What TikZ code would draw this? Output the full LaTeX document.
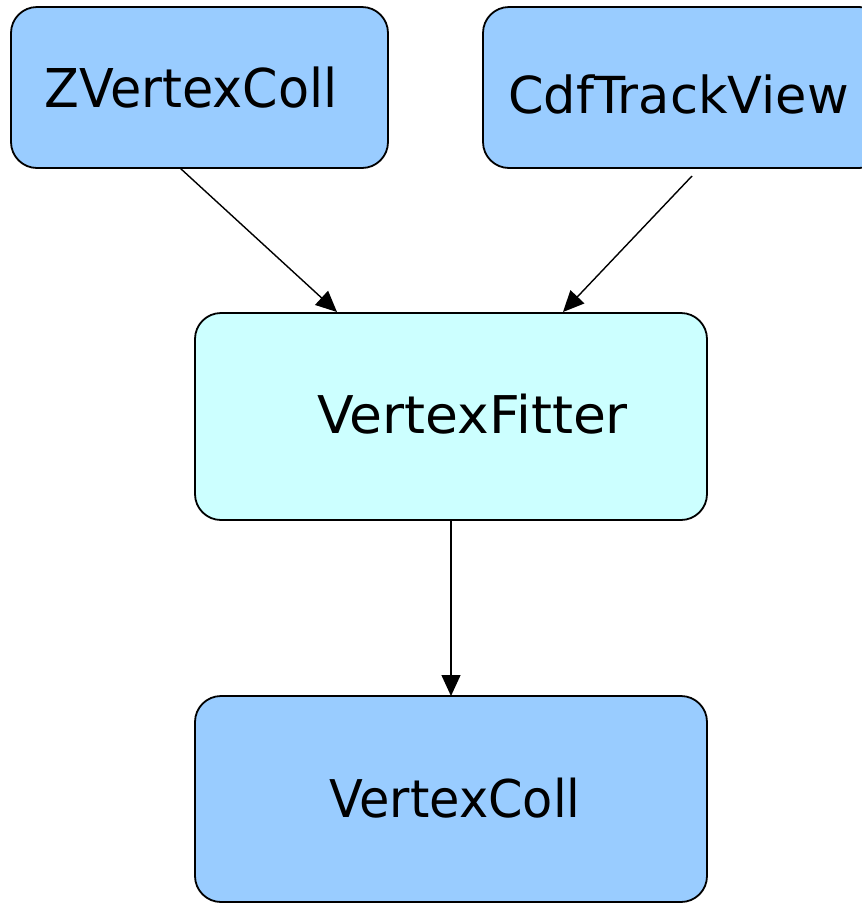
\documentclass[tikz,border=0pt]{standalone}
\usepackage{fontspec}
\setmainfont{DejaVu Sans}
\usetikzlibrary{arrows.meta}
\definecolor{boxblue}{HTML}{99CCFF}
\definecolor{boxcyan}{HTML}{CCFFFF}
\tikzset{
  box/.style={draw=black, line width=1.8pt, rounded corners=26pt, inner sep=0pt},
  lbl/.style={inner sep=0pt, anchor=base, text=black},
  conn/.style={draw=black, line width=1.4pt, -{Triangle[length=21pt,width=19pt]}}
}
\begin{document}
\begin{tikzpicture}[x=1pt,y=-1pt]
\useasboundingbox (0,0) rectangle (862,903);
\clip (0,0) rectangle (862,903);
% boxes
\node[box, fill=boxblue, minimum width=377pt, minimum height=161pt] (zv) at (199.5,87.5) {};
\node[box, fill=boxblue, minimum width=402pt, minimum height=161pt] (cdf) at (684,87.5) {};
\node[box, fill=boxcyan, minimum width=512pt, minimum height=207pt] (vf) at (451,416.5) {};
\node[box, fill=boxblue, minimum width=512pt, minimum height=206pt] (vc) at (451,799) {};
% labels
\node[lbl, xscale=0.95] (zvt) at (191,107) {\fontsize{53.5}{60}\selectfont ZVertexColl};
\node[lbl, xscale=1.0] (cdft) at (678.5,113) {\fontsize{51}{58}\selectfont CdfTrackView};
\node[lbl, xscale=1.03] (vft) at (472.5,433) {\fontsize{52}{58}\selectfont VertexFitter};
\node[lbl, xscale=0.95] (vct) at (455,817) {\fontsize{52}{58}\selectfont VertexColl};
% connector end points
\coordinate (a1s) at (180,168);
\coordinate (a1e) at (337,312);
\coordinate (a2s) at (692,176);
\coordinate (a2e) at (563,312);
\coordinate (a3s) at (451,520);
\coordinate (a3e) at (451,696);
\draw[conn] (a1s) -- (a1e);
\draw[conn] (a2s) -- (a2e);
\draw[conn] (a3s) -- (a3e);
\end{tikzpicture}
\end{document}
